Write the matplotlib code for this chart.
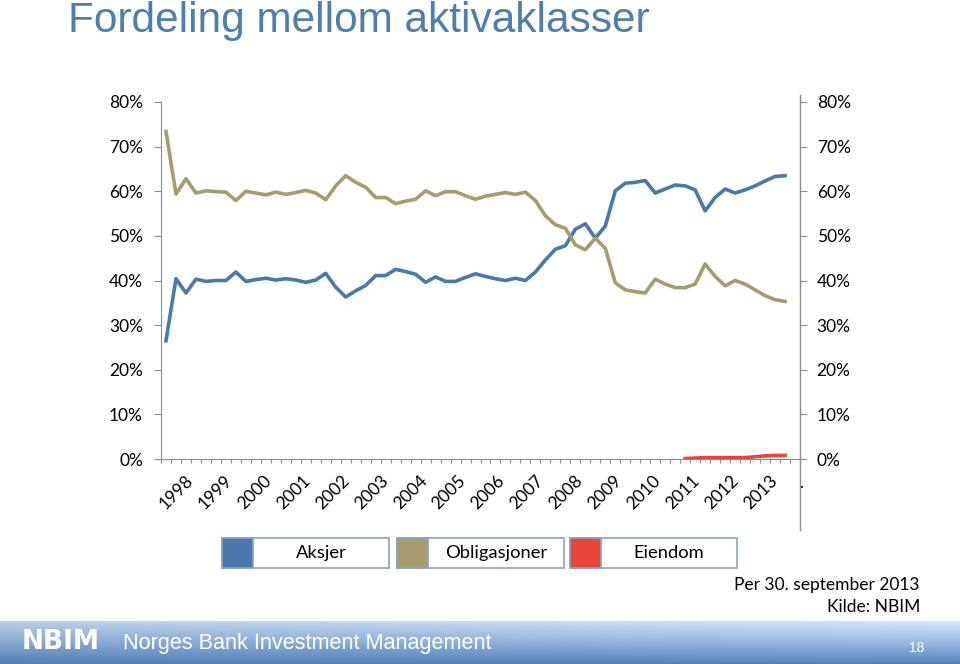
import numpy as np
import matplotlib
matplotlib.use("Agg")
import matplotlib.pyplot as plt
from matplotlib.patches import Rectangle
from matplotlib.lines import Line2D

# Quarterly shares (%) 1998 Q1 - 2013 Q3
aksjer = [26.5, 40.4, 37.2, 40.3, 39.8, 40.0, 40.0, 41.9, 39.8, 40.2,
          40.5, 40.1, 40.4, 40.1, 39.6, 40.1, 41.6, 38.5, 36.3, 37.7,
          38.9, 41.1, 41.1, 42.5, 42.0, 41.4, 39.6, 40.8, 39.8, 39.8,
          40.7, 41.5, 40.9, 40.4, 40.0, 40.5, 40.0, 41.9, 44.6, 47.0,
          47.8, 51.5, 52.7, 49.5, 52.2, 60.1, 61.8, 62.0, 62.4, 59.6,
          60.5, 61.4, 61.2, 60.3, 55.6, 58.6, 60.5, 59.6, 60.3, 61.2,
          62.3, 63.3, 63.5]
obligasjoner = [73.4, 59.4, 62.8, 59.6, 60.1, 59.9, 59.8, 57.9, 60.0, 59.6,
                59.2, 59.8, 59.3, 59.7, 60.2, 59.6, 58.1, 61.2, 63.5, 62.0,
                60.9, 58.6, 58.6, 57.2, 57.8, 58.2, 60.1, 59.0, 59.9, 59.9,
                59.0, 58.2, 58.9, 59.3, 59.7, 59.3, 59.8, 57.9, 54.5, 52.5,
                51.7, 48.0, 46.9, 49.5, 47.2, 39.5, 37.9, 37.5, 37.2, 40.3,
                39.2, 38.4, 38.4, 39.2, 43.7, 40.9, 38.8, 40.0, 39.2, 37.9,
                36.6, 35.7, 35.3]
eiendom = [None] * 52 + [0.1, 0.2, 0.3, 0.3, 0.3, 0.3, 0.3, 0.5, 0.7, 0.8, 0.8]
years = [str(y) for y in range(1998, 2014)]

n_cat = 64
c_blue = "#4A78AA"
c_tan = "#A69C70"
c_red = "#E8443A"
c_axis = "#8C8C8C"
W, H = 960, 664

fig = plt.figure(figsize=(9.6, 6.64), dpi=100)

# footer band with gradient
fax = fig.add_axes([0, 0, 1, 43 / H])
top = np.array([0.72, 0.81, 0.90])
bot = np.array([0.33, 0.50, 0.72])
v = np.linspace(0, 1, 43)[:, None, None]
h = np.linspace(0, 1, 200)[None, :, None]
grad = top * (1 - v) + bot * v
grad = grad + 0.10 * h * (1 - v) ** 0.5
grad = np.clip(grad, 0, 1)
fax.imshow(grad, aspect="auto", extent=[0, 1, 0, 1])
fax.set_axis_off()
fig.text(22 / W, 1 - 642 / H, "NBIM", color="white", fontsize=19, fontweight="bold",
         family="DejaVu Sans", va="center")
fig.text(123 / W, 1 - 643 / H, "Norges Bank Investment Management", color="white",
         fontsize=15.6, family="Liberation Sans", va="center")
fig.text(917 / W, 1 - 648 / H, "18", color="white", fontsize=10, family="Liberation Sans",
         ha="center", va="center")

# title
fig.text(68 / W, 1 - 21 / H, "Fordeling mellom aktivaklasser", color="#4F7DAE",
         fontsize=30.5, family="Liberation Sans", va="center")

ax = fig.add_axes([161 / W, 1 - 459 / H, 639 / W, 357 / H])
x = np.arange(len(aksjer))
ax.plot(x, np.array(aksjer) / 100, color=c_blue, lw=2.6, solid_joinstyle="round")
ax.plot(x, np.array(obligasjoner) / 100, color=c_tan, lw=2.6, solid_joinstyle="round")
er = np.array([np.nan if e is None else e for e in eiendom]) / 100
ax.plot(x, er, color=c_red, lw=2.6)

ax.set_xlim(-0.5, n_cat - 0.5)
ax.set_ylim(0, 0.8)
ticks = np.arange(0, 0.81, 0.1)
ax.set_yticks(ticks)
ax.set_yticklabels([f"{int(round(t * 100))}%" for t in ticks])
ax.set_xticks(np.arange(-0.5, n_cat, 1))
ax.set_xticklabels([])
ax.tick_params(axis="x", length=3, color=c_axis, direction="out")
ax.tick_params(axis="y", length=5, color=c_axis, labelsize=12.5, pad=8)
for lab in ax.get_yticklabels():
    lab.set_family("Lato")
for s in ["top", "right"]:
    ax.spines[s].set_visible(False)
for s in ["left", "bottom"]:
    ax.spines[s].set_color(c_axis)

ax2 = ax.twinx()
ax2.set_ylim(0, 0.8)
ax2.set_yticks(ticks)
ax2.set_yticklabels([f"{int(round(t * 100))}%" for t in ticks])
ax2.tick_params(axis="y", length=5, color=c_axis, labelsize=12.5, pad=7)
for lab in ax2.get_yticklabels():
    lab.set_family("Lato")
for s in ax2.spines.values():
    s.set_visible(False)
fig.add_artist(Line2D([800 / W, 800 / W], [1 - 95 / H, 1 - 530 / H], color=c_axis, lw=1))

# year labels
for i, yr in enumerate(years):
    ax.text(i * 3.9 + 2.5, -0.043, yr, rotation=45, rotation_mode="anchor",
            ha="right", va="center", fontsize=12.5, family="Lato",
            transform=ax.transData, clip_on=False)
ax.text(63.6, -0.065, ".", fontsize=12, family="Lato", ha="center", clip_on=False)

# legend boxes
leg = [("Aksjer", c_blue, 222), ("Obligasjoner", c_tan, 397), ("Eiendom", c_red, 570)]
for name, col, x0 in leg:
    y0 = 1 - 568 / H
    fig.add_artist(Rectangle((x0 / W, y0), 167 / W, 30 / H, facecolor="white",
                             edgecolor="#8AA4C2", lw=1.2, transform=fig.transFigure))
    fig.add_artist(Rectangle((x0 / W, y0), 31 / W, 30 / H, facecolor=col,
                             edgecolor="#8AA4C2", lw=1.2, transform=fig.transFigure))
    fig.text((x0 + 31 + 68) / W, 1 - 553 / H, name, fontsize=13.2, family="Lato",
             ha="center", va="center")

fig.text(920 / W, 1 - 585 / H, "Per 30. september 2013", fontsize=12.5, family="Lato",
         ha="right", va="center")
fig.text(920 / W, 1 - 607 / H, "Kilde: NBIM", fontsize=12.5, family="Lato",
         ha="right", va="center")

fig.savefig("out.png", dpi=100)
